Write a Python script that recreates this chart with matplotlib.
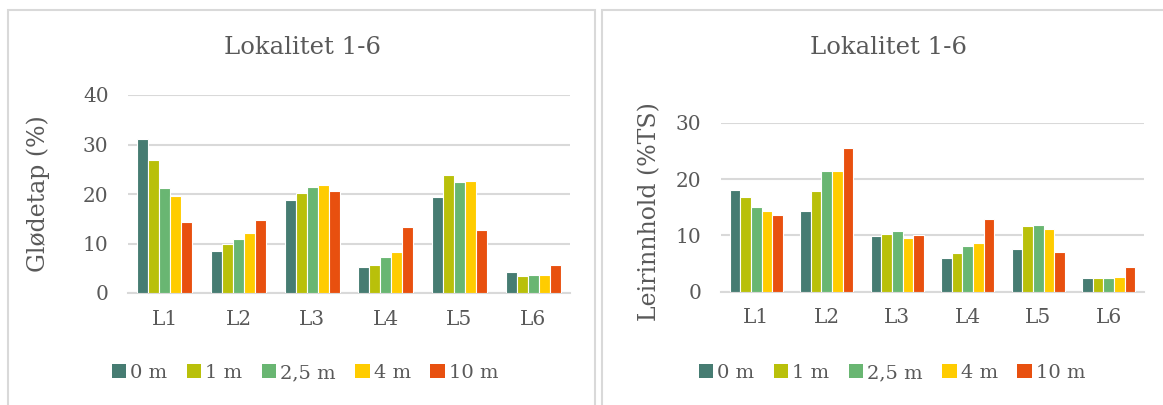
import matplotlib
matplotlib.use("Agg")
import matplotlib.pyplot as plt
import numpy as np
from matplotlib.patches import Rectangle, Patch

categories = ["L1", "L2", "L3", "L4", "L5", "L6"]
series_names = ["0 m", "1 m", "2,5 m", "4 m", "10 m"]
colors = ["#467C72", "#B9C00A", "#69B672", "#FFCC00", "#E8500F"]

# Glødetap (%)
gl_0m = [31.2, 8.4, 18.7, 5.3, 19.4, 4.3]
gl_1m = [26.9, 10.0, 20.3, 5.6, 23.9, 3.4]
gl_25m = [21.3, 11.0, 21.5, 7.3, 22.5, 3.6]
gl_4m = [19.6, 12.1, 21.9, 8.3, 22.6, 3.7]
gl_10m = [14.4, 14.8, 20.7, 13.4, 12.8, 5.6]

# Leirinnhold (%TS)
le_0m = [18.0, 14.4, 9.9, 5.9, 7.6, 2.4]
le_1m = [16.8, 17.9, 10.2, 6.8, 11.7, 2.4]
le_25m = [15.1, 21.4, 10.8, 8.1, 11.8, 2.4]
le_4m = [14.3, 21.5, 9.5, 8.6, 11.2, 2.5]
le_10m = [13.7, 25.6, 10.0, 12.9, 7.0, 4.3]

title_txt = "Lokalitet 1-6"
ylabel_left = "Glødetap (%)"
ylabel_right = "Leirinnhold (%TS)"

W, H = 1163, 405
fig = plt.figure(figsize=(W / 100, H / 100), dpi=100)
plt.rcParams['font.family'] = ['DejaVu Serif']
txt_col = "#595959"
grid_col = "#D9D9D9"

# chart frames
fig.add_artist(Rectangle((8 / W, -0.1), (595 - 8) / W, 1.1 - 10 / H, transform=fig.transFigure,
                         fill=False, edgecolor=grid_col, linewidth=1.5))
fig.add_artist(Rectangle((602 / W, -0.1), 0.6, 1.1 - 10 / H, transform=fig.transFigure,
                         fill=False, edgecolor=grid_col, linewidth=1.5))


def make(ax_rect, data, ymax, ylabel, title_x, legend_x, ylab_x, ylab_y):
    ax = fig.add_axes(ax_rect)
    x = np.arange(len(categories))
    bw = 0.15
    for i, (vals, c, name) in enumerate(zip(data, colors, series_names)):
        ax.bar(x + (i - 2) * bw, vals, width=bw, color=c, edgecolor="white",
               linewidth=0.8, label=name, zorder=3)
    ax.set_xlim(-0.5, len(categories) - 0.5)
    ax.set_ylim(0, ymax)
    ax.set_yticks(np.arange(0, ymax + 1, 10))
    ax.set_xticks(x)
    ax.set_xticklabels(categories)
    ax.yaxis.grid(True, color=grid_col, linewidth=1.5, zorder=0)
    ax.set_axisbelow(True)
    for s in ["top", "right", "left"]:
        ax.spines[s].set_visible(False)
    ax.spines["bottom"].set_color(grid_col)
    ax.spines["bottom"].set_linewidth(1.5)
    ax.tick_params(axis="both", length=0, colors=txt_col, labelsize=14.5)
    ax.tick_params(axis="y", pad=14)
    ax.tick_params(axis="x", pad=12)
    fig.text(ylab_x / W, 1 - ylab_y / H, ylabel, rotation=90,
             ha="center", va="center", fontsize=17, color=txt_col)
    fig.text(title_x / W, 1 - 47 / H, title_txt, ha="center", va="center",
             fontsize=17.5, color=txt_col)
    handles = [Patch(facecolor=c, edgecolor="none") for c in colors]
    fig.legend(handles, series_names, loc="center", bbox_to_anchor=(legend_x / W, 1 - 373 / H),
               ncol=5, frameon=False, fontsize=14, labelcolor=txt_col,
               handlelength=0.75, handleheight=0.75, handletextpad=0.2, columnspacing=1.0)
    return ax


make([128 / W, 1 - 293 / H, 442 / W, 198 / H],
     [gl_0m, gl_1m, gl_25m, gl_4m, gl_10m], 40, ylabel_left, 303, 305, 38, 194)
make([721 / W, 1 - 291.5 / H, 423 / W, 168.5 / H],
     [le_0m, le_1m, le_25m, le_4m, le_10m], 30, ylabel_right, 889, 892, 650, 212)

fig.savefig("out.png", dpi=100, facecolor="white")
